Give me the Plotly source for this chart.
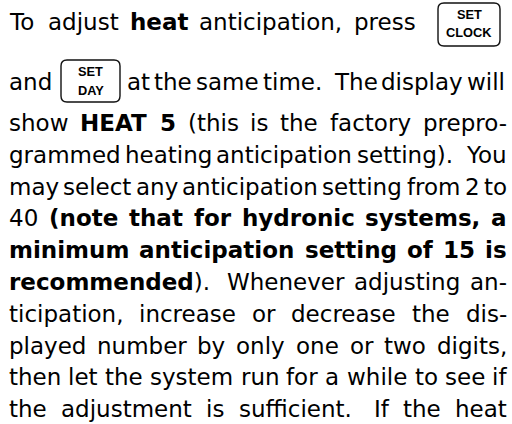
import plotly.graph_objects as go

# ---------------- content ----------------
# "**" toggles bold
para_lines = [
    "To adjust **heat** anticipation, press",
    "and",
    "at the same time.  The display will",
    "show **HEAT 5** (this is the factory prepro-",
    "grammed heating anticipation setting).  You",
    "may select any anticipation setting from 2 to",
    "40 **(note that for hydronic systems, a**",
    "**minimum anticipation setting of 15 is**",
    "**recommended**).  Whenever adjusting an-",
    "ticipation, increase or decrease the dis-",
    "played number by only one or two digits,",
    "then let the system run for a while to see if",
    "the adjustment is sufficient.  If the heat",
]
key_labels = [["SET", "CLOCK"], ["SET", "DAY"]]

# ---------------- layout geometry ----------------
W, H = 512, 424
FONT = "DejaVu Sans"
SIZE = 23
L, R = 8.5, 507
# (left, right, baseline, justify) per line
geom = [
    (L, 416, 30, True),
    (L, None, 89.5, False),
    (127, 505, 89.5, True),
]
for k in range(10):
    geom.append((L, R, 131 + 31.8 * k, True))

key_boxes = [  # x0, y0, x1, y1, label baselines
    (438, 3, 500, 46, (19.3, 36.7)),
    (61, 60, 120, 102, (76.0, 95.0)),
]
KEY_SIZE = 12.8

# DejaVu Sans advance widths (units of 2048)
REG = {' ': 651, '(': 799, ')': 799, ',': 651, '-': 739, '.': 651,
       'I': 604, 'T': 1251, 'W': 2025, 'Y': 1251,
       'a': 1255, 'b': 1300, 'c': 1126, 'd': 1300, 'e': 1260, 'f': 721,
       'g': 1300, 'h': 1298, 'i': 569, 'j': 569, 'k': 1186, 'l': 569,
       'm': 1995, 'n': 1298, 'o': 1253, 'p': 1300, 'q': 1300, 'r': 842,
       's': 1067, 't': 803, 'u': 1298, 'v': 1212, 'w': 1675, 'x': 1212,
       'y': 1212, 'z': 1075}
BOLD = {' ': 713, '(': 938, ')': 938, ',': 780, '-': 852, '.': 780,
        'A': 1589, 'E': 1399, 'H': 1714, 'T': 1399,
        'a': 1382, 'b': 1466, 'c': 1214, 'd': 1466, 'e': 1389, 'f': 891,
        'g': 1466, 'h': 1458, 'i': 702, 'l': 702, 'm': 2134, 'n': 1458,
        'o': 1407, 'p': 1466, 'r': 1011, 's': 1219, 't': 979, 'u': 1458,
        'v': 1331, 'w': 1886, 'y': 1331}


def cw(ch, bold):
    if ch.isdigit():
        return (1425 if bold else 1303) * SIZE / 2048
    tab = BOLD if bold else REG
    return tab.get(ch, 1250) * SIZE / 2048


def parse(line):
    chars = []
    bold = False
    i = 0
    while i < len(line):
        if line.startswith("**", i):
            bold = not bold
            i += 2
            continue
        chars.append((line[i], bold))
        i += 1
    words, gaps = [], []
    cur = []
    nsp = 0
    for ch, b in chars:
        if ch == ' ':
            if cur:
                words.append(cur)
                cur = []
            nsp += 1
        else:
            if nsp and words:
                gaps.append(nsp)
            nsp = 0
            cur.append((ch, b))
    if cur:
        words.append(cur)
    return words, gaps


def word_markup(word):
    out, seg, segb = "", "", None
    for ch, b in word + [(None, None)]:
        if b != segb and seg:
            out += f"<b>{seg}</b>" if segb else seg
            seg = ""
        if ch is not None:
            seg += ch
            segb = b
    return out


annotations = []
for text, (x0, x1, base, just) in zip(para_lines, geom):
    words, gaps = parse(text)
    widths = [sum(cw(c, b) for c, b in w) for w in words]
    sp = cw(' ', False)
    yc = base - 0.346 * SIZE
    if just and len(words) > 1:
        natural = sum(widths) + sum(g * sp for g in gaps)
        extra = (x1 - x0 - natural) / len(gaps)
    else:
        extra = 0
    x = x0
    for j, w in enumerate(words):
        last = just and j == len(words) - 1 and len(words) > 1
        annotations.append(dict(
            x=x1 if last else x, y=yc, xref="x", yref="y",
            text=word_markup(w), showarrow=False,
            xanchor="right" if last else "left", yanchor="middle",
            borderpad=0, borderwidth=0,
            font=dict(family=FONT, size=SIZE, color="#000000")))
        if j < len(gaps):
            x += widths[j] + gaps[j] * sp + extra


def rrect(x0, y0, x1, y1, r):
    return (f"M{x0+r},{y0} L{x1-r},{y0} Q{x1},{y0} {x1},{y0+r} "
            f"L{x1},{y1-r} Q{x1},{y1} {x1-r},{y1} L{x0+r},{y1} "
            f"Q{x0},{y1} {x0},{y1-r} L{x0},{y0+r} Q{x0},{y0} {x0+r},{y0} Z")


shapes = []
for (bx0, by0, bx1, by1, bases), labels in zip(key_boxes, key_labels):
    shapes.append(dict(type="path", xref="x", yref="y",
                       path=rrect(bx0, by0, bx1, by1, 6),
                       line=dict(color="#111111", width=1.4)))
    for lab, bl in zip(labels, bases):
        annotations.append(dict(
            x=(bx0 + bx1) / 2, y=bl - 0.36 * KEY_SIZE, xref="x", yref="y",
            text=f"<b>{lab}</b>", showarrow=False, xanchor="center",
            yanchor="middle", borderpad=0, borderwidth=0,
            font=dict(family="Liberation Sans", size=KEY_SIZE,
                      color="#000000")))

fig = go.Figure(go.Scatter(x=[], y=[], hoverinfo="skip", showlegend=False))
fig.update_layout(
    width=W, height=H, margin=dict(l=0, r=0, t=0, b=0),
    paper_bgcolor="white", plot_bgcolor="white",
    xaxis=dict(range=[0, W], visible=False, fixedrange=True),
    yaxis=dict(range=[H, 0], visible=False, fixedrange=True),
    annotations=annotations, shapes=shapes, showlegend=False,
)
fig.write_html("out.html", config={"displayModeBar": False},
               post_script="document.body.style.margin='0';"
                           "document.body.style.overflow='hidden';")
